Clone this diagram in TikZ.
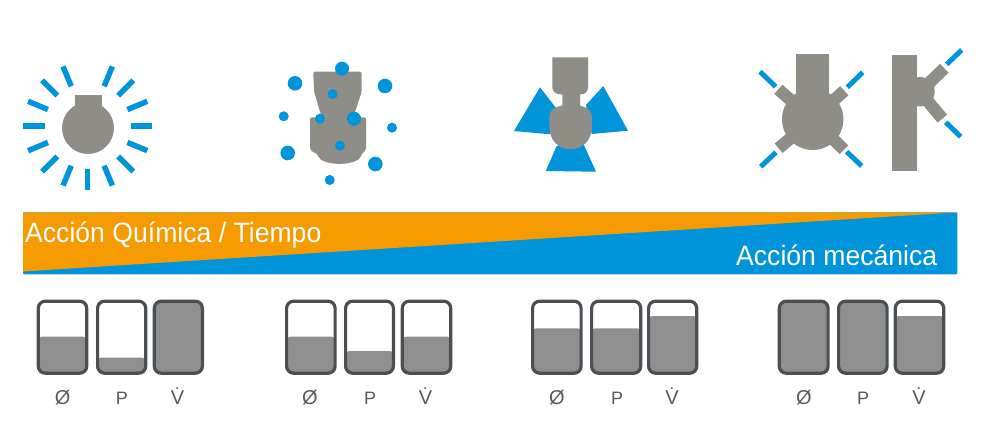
\documentclass[tikz,border=0pt]{standalone}
\usepackage{fontspec}
\setmainfont{Liberation Sans}
\definecolor{sprayblue}{HTML}{0095DA}
\definecolor{bandorange}{HTML}{F59B00}
\definecolor{nozzlegray}{HTML}{8E8D88}
\definecolor{framegray}{HTML}{4A4F54}
\definecolor{levelgray}{HTML}{8F8F8F}
\definecolor{labelgray}{HTML}{565B60}
\tikzset{
  ray/.style={draw=sprayblue, line width=5.5pt},
  jet/.style={draw=sprayblue, line width=5pt},
  stub/.style={draw=nozzlegray, line width=12.3pt},
  body/.style={fill=nozzlegray, draw=none},
  frame/.style={draw=framegray, line width=3.2pt, rounded corners=7pt},
  bandtext/.style={text=white, inner sep=0pt, anchor=base west, xscale=.95, font=\fontsize{28}{28}\selectfont},
  gaugetext/.style={text=labelgray, inner sep=0pt, anchor=base},
}
% one gauge: left x, right x, fill level y
\newcommand{\gauge}[3]{
  \fill[levelgray,rounded corners=3pt] (#1+2,#3) rectangle (#2-2,373);
  \draw[frame] (#1+1.6,301.2) rectangle (#2-1.6,373.2);
}
\begin{document}
\begin{tikzpicture}[x=1pt,y=-1pt,line join=round]
  \useasboundingbox (0,0) rectangle (989,425);
  % icon 1
  \foreach \ang in {0,22.5,45,67.5,90,112.5,135,157.5,180,202.5,225,247.5,292.5,315,337.5}
    \draw[ray] (87.7,126)++(\ang:43)--++(\ang:21.5);
  \fill[body] (88,128) circle (26);
  \fill[body] (75,95) rectangle (102,112);
  % icon 2
  \fill[body,rounded corners=2pt] (313.3,71.7)--(361.7,71.7)--(361.7,91.7)--(353.3,117.3)--(366,117.3)--(366,150)
    --(360.7,155)--(360.7,158) .. controls (350,165.5) and (329,165.5) .. (318.5,158)--(318.5,155)--(310,150)--(310,117.3)--(321.7,117.3)--(314,91.7)--cycle;
  \foreach \x/\y/\r in {342/68.7/7,295/83.3/7.3,385/86/7.3,332.7/94/5,283.7/116.3/5,320/118.7/5,354/118.7/7,392/127.7/5,287.7/153/7.3,340/145.7/5,375.3/164/7.3,329.7/180/5}
    \fill[sprayblue] (\x,\y) circle (\r);
  % icon 3
  \fill[sprayblue] (540,87.3)--(514,131)--(550,134.3)--(556,108)--cycle;
  \fill[sprayblue] (603.3,86)--(628,130.7)--(591.7,134)--(586,105)--cycle;
  \fill[sprayblue] (556.7,146)--(545.7,171)--(596,171.7)--(584,145)--cycle;
  \fill[body] (552.3,57.3)--(588,57.3)--(588,87) .. controls (588,92) and (585,94.5) .. (580,94.5)
    --(580,110)--(562.3,110)--(562.3,94.5) .. controls (555.5,94.5) and (552.3,92) .. (552.3,87)--cycle;
  \fill[body] (549.3,118) .. controls (549.3,108) and (558,105) .. (570.7,105)
    .. controls (583,105) and (592,108) .. (592,118)--(592,126)
    .. controls (592,140) and (583,149.3) .. (570.7,149.3)
    .. controls (558,149.3) and (549.3,140) .. (549.3,126)--cycle;
  % icon 4, front
  \foreach \x/\y/\a/\b/\c/\d in {778.3/89.3/760/71.7/775.7/86.7,844.3/90.7/862.7/72.3/847.3/87.3,778.7/148.3/760.7/166.7/776/152.3,844/149.7/861.7/166/846.7/151.7}{
    \draw[stub] (812.7,119.3)--(\x,\y);
    \draw[jet] (\a,\b)--(\c,\d);
  }
  \fill[body] (795.7,54.3) rectangle (829.3,110);
  \fill[body] (812.7,119.3) circle (30.7);
  % icon 4, side
  \draw[stub] (920,91.7)--(944.3,68.3);
  \draw[stub] (920,91.7)--(942.3,118.7);
  \draw[jet] (946.7,64.3)--(961.7,50);
  \draw[jet] (945.7,122.3)--(960.7,136.7);
  \fill[body] (920,91.7) circle (14.7);
  \fill[body] (892,55) rectangle (917.3,170.7);
  % band
  \fill[sprayblue,rounded corners=1pt] (23,212.3) rectangle (957.3,274.3);
  \fill[bandorange] (23,212.3)--(957.3,212.3)--(23,271.5)--cycle;
  \node[bandtext] (chem) at (25,242.3) {Acción Química / Tiempo};
  \node[bandtext] (mech) at (736,265.7) {Acción mecánica};
  % gauges
  \gauge{36.7}{88.3}{336.7} \gauge{96}{147.3}{357.7} \gauge{152.7}{204}{303}
  \gauge{285}{336.7}{336.7} \gauge{344}{395}{351} \gauge{400.7}{452.3}{336.7}
  \gauge{531}{582.7}{328.3} \gauge{590}{642.3}{328.3} \gauge{647}{698.3}{316}
  \gauge{777.7}{829.7}{303} \gauge{837}{888.7}{303} \gauge{893.7}{945.3}{316}
  \foreach \x/\n in {62.7/a,310/b,557/c,804/d}
    \node[gaugetext,font=\fontsize{20}{20}\selectfont] (dia\n) at (\x,404) {Ø};
  \foreach \x/\n in {122/a,370/b,617/c,863/d}
    \node[gaugetext,font=\fontsize{18}{18}\selectfont] (pre\n) at (\x,404.3) {P};
  \foreach \x/\n in {177.5/a,425.5/b,672/c,919/d}
    \node[gaugetext,font=\fontsize{20}{20}\selectfont] (vol\n) at (\x,404.3) {\.V};
\end{tikzpicture}
\end{document}
